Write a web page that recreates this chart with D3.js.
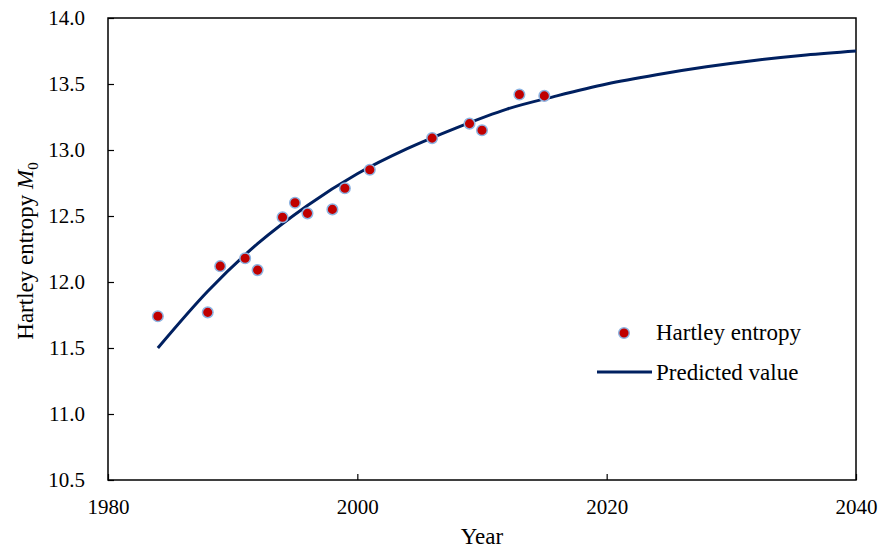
<!DOCTYPE html>
<html>
<head>
<meta charset="utf-8">
<script src="https://cdn.jsdelivr.net/npm/d3@7"></script>
<style>
    body { margin: 0; background: #fff; }
    svg, svg text { font-family: "Liberation Serif", "Times New Roman", serif !important; fill: #000; }
</style>
</head>
<body>
<div id="chart"></div>
<script>
// observed Hartley entropy
const obsYears = [1984, 1988, 1989, 1991, 1992, 1994, 1995, 1996, 1998, 1999, 2001, 2006, 2009, 2010, 2013, 2015];
const obsValues = [11.74, 11.77, 12.12, 12.18, 12.09, 12.49, 12.60, 12.52, 12.55, 12.71, 12.85, 13.09, 13.20, 13.15, 13.42, 13.41];
// predicted curve
const predYears = [1984, 1988, 1992, 1996, 2000, 2004, 2008, 2012, 2016, 2020, 2024, 2028, 2032, 2036, 2040];
const predValues = [11.50, 11.93, 12.29, 12.58, 12.82, 13.01, 13.17, 13.31, 13.41, 13.50, 13.57, 13.63, 13.68, 13.72, 13.75];
const xTicks = [1980, 2000, 2020, 2040];
const yTicks = [10.5, 11.0, 11.5, 12.0, 12.5, 13.0, 13.5, 14.0];

const width = 881;
const height = 551;
const padding = { top: 18, right: 25, bottom: 71, left: 108 };
const innerW = width - padding.left - padding.right;
const innerH = height - padding.top - padding.bottom;

const xScale = d3.scaleLinear().domain([1980, 2040]).range([0, innerW]);
const yScale = d3.scaleLinear().domain([10.5, 14.0]).range([innerH, 0]);

const svg = d3.select('#chart')
    .append('svg')
    .attr('width', width)
    .attr('height', height);

const g = svg.append('g')
    .attr('transform', 'translate(' + padding.left + ',' + padding.top + ')');

// frame
g.append('rect')
    .attr('width', innerW)
    .attr('height', innerH)
    .attr('fill', 'none')
    .attr('stroke', '#000')
    .attr('stroke-width', 1.5);

const xAxis = d3.axisBottom(xScale)
    .tickValues(xTicks)
    .tickFormat(d3.format('d'))
    .tickSizeInner(-6)
    .tickSizeOuter(0)
    .tickPadding(19);

const yAxis = d3.axisLeft(yScale)
    .tickValues(yTicks)
    .tickFormat(d3.format('.1f'))
    .tickSizeInner(-6)
    .tickSizeOuter(0)
    .tickPadding(23);

const gx = g.append('g')
    .attr('transform', 'translate(0,' + innerH + ')')
    .call(xAxis);
const gy = g.append('g').call(yAxis);

[gx, gy].forEach(function(a) {
    a.attr('font-family', null).attr('font-size', null);
    a.select('.domain').remove();
    a.selectAll('line').attr('stroke', '#000').attr('stroke-width', 1.2);
    a.selectAll('text')
        .style('font-family', '"Liberation Serif", "Times New Roman", serif')
        .style('font-size', '21px');
});

// predicted line
const line = d3.line()
    .x(function(d, i) { return xScale(predYears[i]); })
    .y(function(d) { return yScale(d); })
    .curve(d3.curveMonotoneX);

g.append('path')
    .attr('d', line(predValues))
    .attr('fill', 'none')
    .attr('stroke', '#002060')
    .attr('stroke-width', 3);

// observed points
g.append('g')
    .selectAll('circle')
    .data(obsValues)
    .enter()
    .append('circle')
    .attr('cx', function(d, i) { return xScale(obsYears[i]); })
    .attr('cy', function(d) { return yScale(d); })
    .attr('r', 5.3)
    .attr('fill', '#C00000')
    .attr('stroke', '#8DB4E2')
    .attr('stroke-width', 1.5);

// axis titles
svg.append('text')
    .attr('x', padding.left + innerW / 2)
    .attr('y', 544)
    .attr('text-anchor', 'middle')
    .attr('font-size', 23)
    .text('Year');

const yTitle = svg.append('text')
    .attr('transform', 'translate(33,251) rotate(-90)')
    .attr('text-anchor', 'middle')
    .attr('font-size', 23);
yTitle.append('tspan').text('Hartley entropy ');
yTitle.append('tspan').attr('font-style', 'italic').text('M');
yTitle.append('tspan').attr('font-size', 15).attr('dy', 5).text('0');

// legend
const legend = svg.append('g');
legend.append('circle')
    .attr('cx', 624)
    .attr('cy', 333)
    .attr('r', 5.3)
    .attr('fill', '#C00000')
    .attr('stroke', '#8DB4E2')
    .attr('stroke-width', 1.5);
legend.append('text')
    .attr('x', 656)
    .attr('y', 340)
    .attr('font-size', 23)
    .text('Hartley entropy');
legend.append('line')
    .attr('x1', 597)
    .attr('x2', 652)
    .attr('y1', 372)
    .attr('y2', 372)
    .attr('stroke', '#002060')
    .attr('stroke-width', 3);
legend.append('text')
    .attr('x', 656)
    .attr('y', 380)
    .attr('font-size', 23)
    .text('Predicted value');
</script>
</body>
</html>
